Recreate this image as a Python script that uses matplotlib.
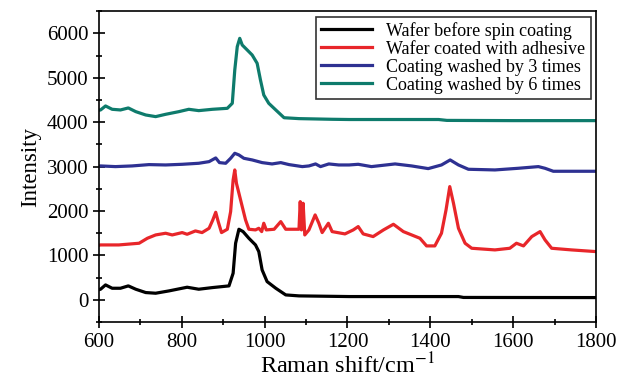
import matplotlib
matplotlib.use("Agg")
import matplotlib.pyplot as plt
from matplotlib.ticker import MultipleLocator

plt.rcParams['font.family'] = ['Liberation Serif', 'DejaVu Serif']
plt.rcParams['mathtext.fontset'] = 'stix'

labels = ["Wafer before spin coating", "Wafer coated with adhesive",
          "Coating washed by 3 times", "Coating washed by 6 times"]
colors = ["#000000", "#e8262a", "#2e3192", "#0e7b6c"]

black_x = [600, 604, 616, 632, 652, 671, 689, 713, 737, 769, 813, 841, 874, 914, 924, 930, 938, 948,
           962, 978, 986, 994, 1006, 1027, 1051, 1083, 1204, 1300, 1468, 1480, 1800]
black_y = [230, 240, 337, 262, 262, 315, 240, 165, 150, 202, 285, 240, 277, 315, 600, 1275, 1590, 1537,
           1387, 1237, 1087, 675, 412, 262, 112, 90, 75, 75, 75, 55, 52]

red_x = [600, 604, 648, 697, 717, 737, 761, 777, 801, 813, 833, 849, 866, 875, 882, 888, 896, 910,
         918, 924, 928, 932, 936, 942, 948, 954, 962, 978, 986, 993, 998, 1004, 1023, 1039, 1051,
         1083, 1086, 1089, 1093, 1097, 1107, 1122, 1131, 1139, 1154, 1163, 1194, 1214, 1226, 1238,
         1262, 1287, 1311, 1335, 1359, 1375, 1391, 1411, 1427, 1438, 1447, 1456, 1468, 1484, 1500,
         1556, 1592, 1608, 1625, 1645, 1665, 1677, 1693, 1741, 1800]
red_y = [1230, 1237, 1237, 1275, 1387, 1462, 1500, 1462, 1515, 1477, 1552, 1515, 1612, 1800, 1972, 1762,
         1515, 1590, 1987, 2700, 2925, 2625, 2475, 2250, 2025, 1800, 1590, 1575, 1612, 1537, 1725,
         1575, 1590, 1762, 1590, 1590, 2212, 1575, 2175, 1462, 1575, 1912, 1725, 1515, 1725, 1537,
         1485, 1575, 1650, 1485, 1425, 1575, 1702, 1537, 1447, 1387, 1215, 1215, 1500, 2025, 2550,
         2175, 1612, 1275, 1162, 1125, 1162, 1275, 1215, 1425, 1537, 1350, 1162, 1125, 1087]

blue_x = [600, 604, 640, 680, 721, 761, 801, 841, 866, 882, 891, 906, 918, 928, 938, 950, 970, 994,
          1018, 1039, 1059, 1091, 1107, 1123, 1135, 1155, 1179, 1204, 1226, 1258, 1315, 1355, 1395,
          1427, 1448, 1468, 1492, 1556, 1612, 1661, 1677, 1697, 1757, 1800]
blue_y = [3010, 3015, 3000, 3015, 3045, 3037, 3052, 3075, 3112, 3195, 3090, 3075, 3187, 3300, 3262,
          3187, 3150, 3090, 3060, 3090, 3045, 3000, 3015, 3060, 3000, 3060, 3037, 3037, 3052, 3000,
          3060, 3015, 2955, 3037, 3150, 3037, 2940, 2925, 2962, 3000, 2962, 2895, 2895, 2895]

teal_x = [600, 604, 616, 632, 652, 671, 689, 713, 737, 761, 793, 817, 841, 874, 910, 922, 928, 934,
          940, 946, 958, 970, 982, 990, 998, 1010, 1027, 1047, 1083, 1163, 1204, 1300, 1420, 1440,
          1600, 1800]
teal_y = [4270, 4275, 4365, 4290, 4275, 4320, 4237, 4162, 4125, 4177, 4237, 4290, 4260, 4290, 4312,
          4425, 5175, 5700, 5887, 5737, 5625, 5512, 5325, 4950, 4612, 4425, 4275, 4100, 4080, 4065,
          4060, 4060, 4060, 4040, 4035, 4035]

series_x = [black_x, red_x, blue_x, teal_x]
series_y = [black_y, red_y, blue_y, teal_y]

fig = plt.figure(figsize=(6.3, 3.83), dpi=100)
ax = fig.add_axes([0.157, 0.159, 0.789, 0.812])

for xs, ys, c, lab in zip(series_x, series_y, colors, labels):
    ax.plot(xs, ys, color=c, lw=2.3, label=lab)

ax.set_xlim(600, 1800)
ax.set_ylim(-500, 6500)
ax.xaxis.set_major_locator(MultipleLocator(200))
ax.xaxis.set_minor_locator(MultipleLocator(100))
ax.yaxis.set_major_locator(MultipleLocator(1000))
ax.yaxis.set_minor_locator(MultipleLocator(500))
ax.tick_params(which='major', direction='inout', length=8, width=1.2, labelsize=15)
ax.tick_params(which='minor', direction='inout', length=5, width=1.2)
for s in ax.spines.values():
    s.set_linewidth(1.2)

ax.set_xlabel(r'Raman shift/cm$^{-1}$', fontsize=17.5, labelpad=1)
ax.set_ylabel('Intensity', fontsize=16.5, labelpad=4)

leg = ax.legend(loc='upper right', fontsize=13, frameon=True, fancybox=False,
                edgecolor='black', borderaxespad=0.3, labelspacing=0.05,
                handlelength=2.8, handletextpad=0.8, borderpad=0.3)
leg.get_frame().set_linewidth(1.2)

fig.savefig('out.png', dpi=100)
